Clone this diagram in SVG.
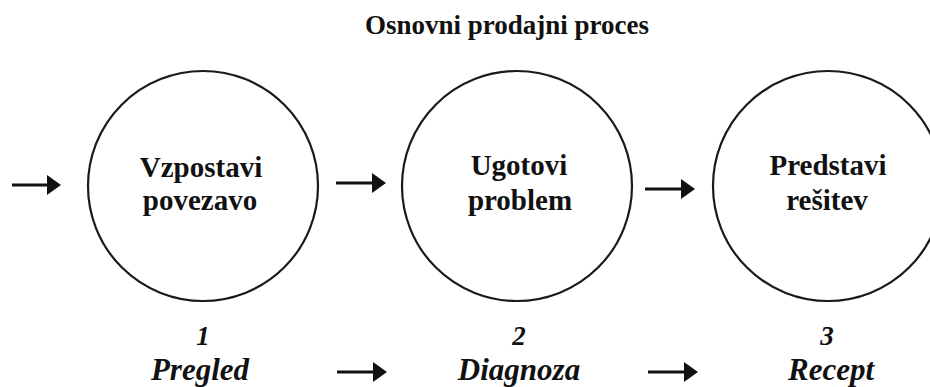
<svg xmlns="http://www.w3.org/2000/svg" width="930" height="387" viewBox="0 0 930 387">
<style>
.bg{fill:#fff}
.node{fill:none;stroke:#1a1a1a;stroke-width:2.2}
.t{font-family:"Liberation Serif","Times New Roman",serif;font-weight:bold;fill:#111;text-anchor:middle}
.title{font-size:27px}
.lbl{font-size:29px}
.num{font-size:27px;font-style:italic}
.step{font-size:31px;font-style:italic}
.conn{stroke:#111;stroke-width:3.2;fill:none;marker-end:url(#ah)}
</style>
<defs>
<marker id="ah" markerUnits="userSpaceOnUse" markerWidth="16" markerHeight="22" refX="2" refY="10" orient="auto" viewBox="0 0 16 22">
<path d="M0,0 L14,10 L0,20 Z" fill="#111"/>
</marker>
</defs>
<rect class="bg" width="930" height="387"/>
<text class="t title" x="507" y="34">Osnovni prodajni proces</text>
<g id="node1">
<circle class="node" cx="203" cy="186" r="115"/>
<text class="t lbl" x="201" y="177">Vzpostavi</text>
<text class="t lbl" x="200" y="210">povezavo</text>
</g>
<g id="node2">
<circle class="node" cx="517" cy="186" r="115"/>
<text class="t lbl" x="519" y="175">Ugotovi</text>
<text class="t lbl" x="520" y="210">problem</text>
</g>
<g id="node3">
<circle class="node" cx="828" cy="186" r="115"/>
<text class="t lbl" x="828" y="175">Predstavi</text>
<text class="t lbl" x="827" y="210">rešitev</text>
</g>
<g id="step1">
<text class="t num" x="203" y="345">1</text>
<text class="t step" x="200" y="380">Pregled</text>
</g>
<g id="step2">
<text class="t num" x="519" y="345">2</text>
<text class="t step" x="519" y="380">Diagnoza</text>
</g>
<g id="step3">
<text class="t num" x="827" y="345">3</text>
<text class="t step" x="831" y="380">Recept</text>
</g>
<g id="connectors">
<line class="conn" x1="12" y1="185" x2="49" y2="185"/>
<line class="conn" x1="336" y1="183" x2="374" y2="183"/>
<line class="conn" x1="645" y1="189" x2="683" y2="189"/>
<line class="conn" x1="337" y1="372" x2="375" y2="372"/>
<line class="conn" x1="648" y1="372" x2="686" y2="372"/>
</g>
</svg>
